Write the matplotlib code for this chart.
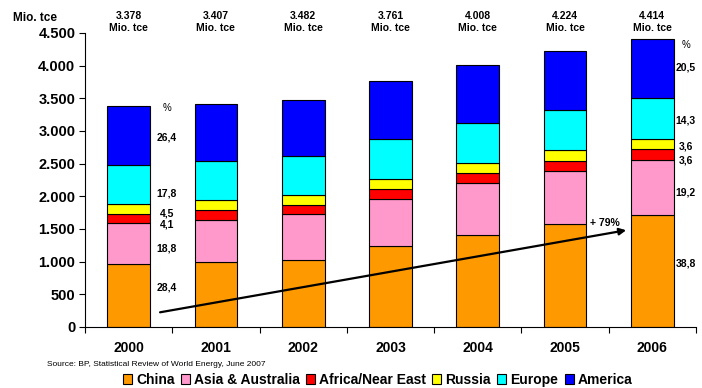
import matplotlib.pyplot as plt
from matplotlib.patches import Patch

plt.rcParams['font.family'] = ['Liberation Sans', 'DejaVu Sans']

# Primary energy consumption by region, Mio. tce
years = ["2000", "2001", "2002", "2003", "2004", "2005", "2006"]
totals = [3378, 3407, 3482, 3761, 4008, 4224, 4414]
total_labels = ["3.378", "3.407", "3.482", "3.761", "4.008", "4.224", "4.414"]

china = [959, 990, 1030, 1240, 1405, 1580, 1713]
asia_australia = [635, 655, 697, 720, 796, 812, 847]
africa_near_east = [138, 143, 148, 150, 154, 152, 159]
russia = [152, 163, 153, 150, 153, 160, 159]
europe = [601, 587, 587, 615, 617, 610, 631]
america = [893, 869, 867, 886, 883, 910, 905]

regions = ["China", "Asia & Australia", "Africa/Near East", "Russia", "Europe", "America"]
colors = ["#FF9900", "#FF99CC", "#FF0000", "#FFFF00", "#00FFFF", "#0000FF"]

# Regional shares (%) in 2000 and 2006, bottom to top
share_2000 = ["28,4", "18,8", "4,1", "4,5", "17,8", "26,4"]
share_2000_y = [608, 1206, 1573, 1742, 2048, 2906]
share_2006 = ["38,8", "19,2", "3,6", "3,6", "14,3", "20,5"]
share_2006_y = [971, 2053, 2554, 2758, 3167, 3968]

fig = plt.figure(figsize=(7.02, 3.88), dpi=100)
ax = fig.add_axes([85 / 702, 1 - 327 / 388, (696 - 85) / 702, (327 - 33) / 388])

x = range(len(years))
bottom = [0] * len(years)
for series, color in zip([china, asia_australia, africa_near_east, russia, europe, america], colors):
    ax.bar(x, series, width=0.49, bottom=bottom, color=color,
           edgecolor="black", linewidth=0.8)
    bottom = [b + v for b, v in zip(bottom, series)]

ax.set_xlim(-0.5, len(years) - 0.5)
ax.set_ylim(0, 4500)
ax.set_yticks(range(0, 4501, 500))
ax.set_yticklabels(["0", "500", "1.000", "1.500", "2.000", "2.500",
                    "3.000", "3.500", "4.000", "4.500"],
                   fontsize=10.5, fontweight="bold")
ax.set_xticks([i - 0.5 for i in range(len(years) + 1)])
ax.set_xticklabels([])
ax.set_xticks(list(x), minor=True)
ax.set_xticklabels(years, minor=True, fontsize=10, fontweight="bold")
ax.tick_params(axis="x", which="minor", length=0, pad=10)
ax.tick_params(axis="x", which="major", length=4, width=0.8)
ax.tick_params(axis="y", length=4, width=0.8, pad=3)

for side in ["top", "right"]:
    ax.spines[side].set_visible(False)
for side in ["left", "bottom"]:
    ax.spines[side].set_linewidth(0.8)

# Totals above each bar
for i, lbl in enumerate(total_labels):
    ax.text(i, 4665, lbl + "\nMio. tce", ha="center", va="center",
            fontsize=7.5, fontweight="bold", linespacing=1.2, clip_on=False)

fig.text(13 / 702, 1 - 18 / 388, "Mio. tce", fontsize=8.5, fontweight="bold",
         va="center", ha="left")

# Shares next to the first and last bar
ax.text(0.44, 3350, "%", fontsize=7, ha="center", va="center")
for lbl, yv in zip(share_2000, share_2000_y):
    ax.text(0.44, yv, lbl, fontsize=7.5, fontweight="bold", ha="center", va="center")
ax.text(6.38, 4316, "%", fontsize=7, ha="center", va="center", clip_on=False)
for lbl, yv in zip(share_2006, share_2006_y):
    ax.text(6.38, yv, lbl, fontsize=7.5, fontweight="bold", ha="center",
            va="center", clip_on=False)

# Growth arrow for China
ax.annotate("", xy=(5.70, 1481), xytext=(0.36, 225),
            arrowprops=dict(arrowstyle="-|>", color="black", lw=1.6,
                            mutation_scale=10, shrinkA=0, shrinkB=0))
ax.text(5.46, 1595, "+ 79%", fontsize=7.5, fontweight="bold", ha="center", va="center")

fig.text(47 / 702, 1 - 364 / 388, "Source: BP, Statistical Review of World Energy, June 2007",
         fontsize=6, ha="left", va="center")

handles = [Patch(facecolor=c, edgecolor="black", linewidth=0.8) for c in colors]
fig.legend(handles, regions, loc="center", bbox_to_anchor=(0.538, 1 - 380 / 388),
           ncol=6, frameon=False, handlelength=0.65, handleheight=0.65,
           handletextpad=0.3, columnspacing=0.45,
           prop={"size": 10, "weight": "bold"})

fig.savefig("out.png", dpi=100)
